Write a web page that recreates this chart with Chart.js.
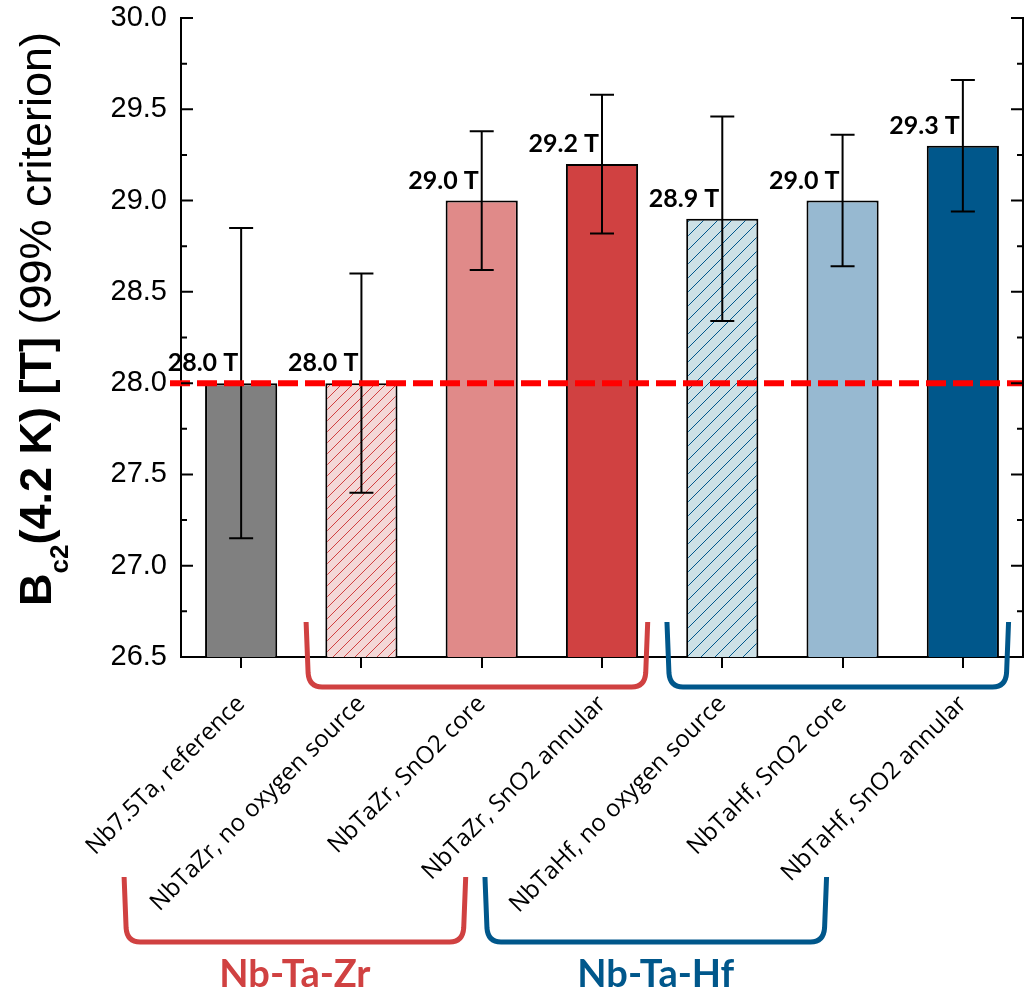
<!DOCTYPE html>
<html>
<head>
<meta charset="utf-8">
<script src="https://cdn.jsdelivr.net/npm/chart.js@4.4.1/dist/chart.umd.min.js"></script>
<style>
  html, body { margin: 0; padding: 0; background: #fff; }
  #wrap { width: 1028px; height: 992px; position: relative; }
</style>
</head>
<body>
<div id="wrap"><canvas id="bc2Chart"></canvas></div>
<script>
// samples, upper critical field at 4.2 K and the spread of each measurement
const samples = [
  'Nb7.5Ta, reference',
  'NbTaZr, no oxygen source',
  'NbTaZr, SnO2 core',
  'NbTaZr, SnO2 annular',
  'NbTaHf, no oxygen source',
  'NbTaHf, SnO2 core',
  'NbTaHf, SnO2 annular'
];
const bc2 = [28.0, 28.0, 29.0, 29.2, 28.9, 29.0, 29.3];
const bc2Err = [0.85, 0.6, 0.38, 0.38, 0.56, 0.36, 0.36];
const refLevel = 28.0;
const yTicks = [26.5, 27.0, 27.5, 28.0, 28.5, 29.0, 29.5, 30.0];

// alloy groups (first and last sample index) with their names
const groupNames = ['Nb-Ta-Zr', 'Nb-Ta-Hf'];
const groupFirst = [1, 4];
const groupLast = [3, 6];

const RED = '#d04141';
const BLUE = '#00578b';

function hatch(bg, fg, gap) {
  const c = document.createElement('canvas');
  c.width = gap; c.height = gap;
  const g = c.getContext('2d');
  g.fillStyle = bg;
  g.fillRect(0, 0, gap, gap);
  g.strokeStyle = fg;
  g.lineWidth = 1;
  g.beginPath();
  g.moveTo(0, gap); g.lineTo(gap, 0);
  g.moveTo(-2, 2); g.lineTo(2, -2);
  g.moveTo(gap - 2, gap + 2); g.lineTo(gap + 2, gap - 2);
  g.stroke();
  return g.createPattern(c, 'repeat');
}

const barFill = [
  '#808080',
  hatch('#f3d8d7', RED, 11),
  '#e08a89',
  RED,
  hatch('#cde1e6', BLUE, 14),
  '#97b9d1',
  BLUE
];

// error bars, the 28 T reference line and value labels
const overlays = {
  id: 'overlays',
  afterDatasetsDraw(chart) {
    const { ctx, chartArea } = chart;
    const x = chart.scales.x, y = chart.scales.y;
    ctx.save();
    ctx.strokeStyle = '#000';
    ctx.lineWidth = 2;
    bc2.forEach((v, i) => {
      const cx = x.getPixelForValue(i);
      const yt = y.getPixelForValue(v + bc2Err[i]);
      const yb = y.getPixelForValue(v - bc2Err[i]);
      ctx.beginPath();
      ctx.moveTo(cx, yt); ctx.lineTo(cx, yb);
      ctx.moveTo(cx - 12, yt); ctx.lineTo(cx + 12, yt);
      ctx.moveTo(cx - 12, yb); ctx.lineTo(cx + 12, yb);
      ctx.stroke();
    });

    ctx.fillStyle = '#000';
    ctx.font = 'bold 25px Lato';
    ctx.textAlign = 'right';
    ctx.textBaseline = 'alphabetic';
    bc2.forEach((v, i) => {
      const cx = x.getPixelForValue(i);
      const top = y.getPixelForValue(v);
      ctx.fillText(v.toFixed(1) + ' T', cx - 3, top - 12);
    });

    const yr = y.getPixelForValue(refLevel);
    ctx.strokeStyle = '#ff0000';
    ctx.lineWidth = 6;
    ctx.setLineDash([20, 7]);
    ctx.beginPath();
    ctx.moveTo(chartArea.left - 11, yr);
    ctx.lineTo(chartArea.right, yr);
    ctx.stroke();
    ctx.restore();
  },
  afterDraw(chart) {
    const { ctx, chartArea } = chart;
    const x = chart.scales.x, y = chart.scales.y;
    ctx.save();
    // right axis and inward ticks on both sides
    ctx.strokeStyle = '#000';
    ctx.lineWidth = 2;
    ctx.beginPath();
    ctx.moveTo(chartArea.right, chartArea.top - 1);
    ctx.lineTo(chartArea.right, chartArea.bottom + 1);
    for (let v = yTicks[0]; v <= yTicks[yTicks.length - 1] + 1e-6; v += 0.25) {
      const py = y.getPixelForValue(v);
      const len = Math.abs(v * 2 - Math.round(v * 2)) < 1e-6 ? 12 : 6;
      ctx.moveTo(chartArea.left, py); ctx.lineTo(chartArea.left + len, py);
      ctx.moveTo(chartArea.right, py); ctx.lineTo(chartArea.right - len, py);
    }
    ctx.stroke();

    // y axis title with subscript
    ctx.translate(51, 606);
    ctx.rotate(-Math.PI / 2);
    ctx.fillStyle = '#000';
    ctx.textAlign = 'left';
    ctx.textBaseline = 'alphabetic';
    let px = 0;
    ctx.font = 'bold 45px "Liberation Sans"';
    ctx.fillText('B', px, 0);
    px += ctx.measureText('B').width;
    ctx.font = 'bold 26px "Liberation Sans"';
    ctx.fillText('c2', px, 17);
    px += ctx.measureText('c2').width;
    ctx.font = 'bold 45px "Liberation Sans"';
    ctx.fillText('(4.2 K) [T]', px, 0);
    px += ctx.measureText('(4.2 K) [T] ').width;
    ctx.font = '45px "Liberation Sans"';
    ctx.fillText('(99% criterion)', px, 0);
    ctx.restore();

    // group brackets under the axis and under the sample names
    ctx.save();
    ctx.lineWidth = 5;
    ctx.lineJoin = 'round';
    const bracket = (x0, x1, yt, yb, color) => {
      ctx.strokeStyle = color;
      ctx.beginPath();
      ctx.moveTo(x0, yt);
      ctx.lineTo(x0 + 2, yb - 14);
      ctx.quadraticCurveTo(x0 + 3, yb, x0 + 16, yb);
      ctx.lineTo(x1 - 16, yb);
      ctx.quadraticCurveTo(x1 - 3, yb, x1 - 2, yb - 14);
      ctx.lineTo(x1, yt);
      ctx.stroke();
    };
    const colors = [RED, BLUE];
    groupNames.forEach((name, g) => {
      const x0 = x.getPixelForValue(groupFirst[g] - 0.46);
      const x1 = x.getPixelForValue(groupLast[g] + 0.38);
      bracket(x0, x1, chartArea.bottom - 35, chartArea.bottom + 30, colors[g]);
      const shift = -182;
      bracket(x0 + shift, x1 + shift, chartArea.bottom + 220, chartArea.bottom + 285, colors[g]);
      ctx.fillStyle = colors[g];
      ctx.font = 'bold 38px Lato';
      ctx.textAlign = 'center';
      ctx.textBaseline = 'alphabetic';
      ctx.fillText(name, (x0 + x1) / 2 + shift, chartArea.bottom + 330);
    });
    ctx.restore();
  }
};

new Chart(document.getElementById('bc2Chart'), {
  type: 'bar',
  data: {
    labels: samples,
    datasets: [{
      data: bc2,
      backgroundColor: barFill,
      borderColor: '#000',
      borderWidth: 2,
      borderSkipped: false,
      barPercentage: 0.6,
      categoryPercentage: 1.0
    }]
  },
  options: {
    responsive: true,
    maintainAspectRatio: false,
    animation: false,
    layout: { padding: { top: 18, right: 5, left: 0, bottom: 0 } },
    plugins: { legend: { display: false }, tooltip: { enabled: false } },
    scales: {
      x: {
        offset: true,
        grid: { offset: false, drawOnChartArea: false, tickLength: 11, color: '#000', lineWidth: 2 },
        border: { display: true, color: '#000', width: 2 },
        ticks: {
          minRotation: 45, maxRotation: 45, padding: 22,
          color: '#000', font: { family: '"Open Sans"', size: 24 }
        },
        afterFit(s) { s.height = 335; s.paddingLeft = 0; s.paddingRight = 0; }
      },
      y: {
        min: 26.5, max: 30.0,
        grid: { display: false, drawTicks: false },
        border: { display: true, color: '#000', width: 2 },
        ticks: {
          stepSize: 0.5, padding: 14, color: '#000',
          font: { family: '"Liberation Sans"', size: 29 },
          callback: v => v.toFixed(1)
        },
        afterFit(s) { s.width = 181; s.paddingTop = 0; s.paddingBottom = 0; }
      }
    }
  },
  plugins: [overlays]
});
</script>
</body>
</html>
